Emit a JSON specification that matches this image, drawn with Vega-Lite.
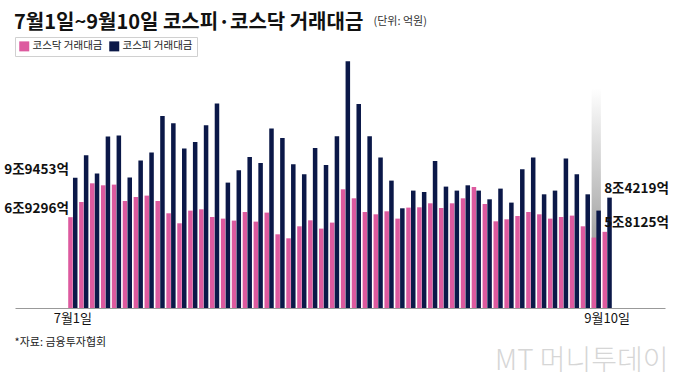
{
  "$schema": "https://vega.github.io/schema/vega-lite/v6.json",
  "width": 650,
  "height": 249,
  "autosize": {"type": "none"},
  "padding": {"left": 15, "top": 59, "right": 15, "bottom": 76},
  "background": "white",
  "config": {"view": {"stroke": null}, "font": "Noto Sans CJK KR"},
  "title": {
    "text": "7월1일~9월10일 코스피·코스닥 거래대금",
    "anchor": "start",
    "frame": "group",
    "orient": "top",
    "fontSize": 20,
    "fontWeight": "bold",
    "font": "Noto Sans CJK KR",
    "color": "#111111",
    "baseline": "alphabetic",
    "offset": 0,
    "dy": 34,
    "dx": -1
  },
  "datasets": {
    "main": [
      {"i": 1, "코스닥 거래대금": 69296, "코스피 거래대금": 99453},
      {"i": 2, "코스닥 거래대금": 80900, "코스피 거래대금": 116500},
      {"i": 3, "코스닥 거래대금": 95150, "코스피 거래대금": 102550},
      {"i": 4, "코스닥 거래대금": 93620, "코스피 거래대금": 130780},
      {"i": 5, "코스닥 거래대금": 94150, "코스피 거래대금": 131540},
      {"i": 6, "코스닥 거래대금": 81640, "코스피 거래대금": 99500},
      {"i": 7, "코스닥 거래대금": 84700, "코스피 거래대금": 112470},
      {"i": 8, "코스닥 거래대금": 85760, "코스피 거래대금": 118570},
      {"i": 9, "코스닥 거래대금": 81640, "코스피 거래대금": 146500},
      {"i": 10, "코스닥 거래대금": 72260, "코스피 거래대금": 140930},
      {"i": 11, "코스닥 거래대금": 64630, "코스피 거래대금": 121620},
      {"i": 12, "코스닥 거래대금": 74300, "코스피 거래대금": 126660},
      {"i": 13, "코스닥 거래대금": 75310, "코스피 거래대금": 139400},
      {"i": 14, "코스닥 거래대금": 69430, "코스피 거래대금": 155960},
      {"i": 15, "코스닥 거래대금": 68200, "코스피 거래대금": 95680},
      {"i": 16, "코스닥 거래대금": 66690, "코스피 거래대금": 105070},
      {"i": 17, "코스닥 거래대금": 73250, "코스피 거래대금": 115210},
      {"i": 18, "코스닥 거래대금": 65920, "코스피 거래대금": 110640},
      {"i": 19, "코스닥 거래대금": 72790, "코스피 거래대금": 136880},
      {"i": 20, "코스닥 거래대금": 56230, "코스피 거래대금": 129710},
      {"i": 21, "코스닥 거래대금": 53180, "코스피 거래대금": 109640},
      {"i": 22, "코스닥 거래대금": 62340, "코스피 거래대금": 102010},
      {"i": 23, "코스닥 거래대금": 66910, "코스피 거래대금": 122080},
      {"i": 24, "코스닥 거래대금": 60580, "코스피 거래대금": 109110},
      {"i": 25, "코스닥 거래대금": 65160, "코스피 거래대금": 131010},
      {"i": 26, "코스닥 거래대금": 90570, "코스피 거래대금": 188230},
      {"i": 27, "코스닥 거래대금": 83700, "코스피 거래대금": 155650},
      {"i": 28, "코스닥 거래대금": 73250, "코스피 거래대금": 131010},
      {"i": 29, "코스닥 거래대금": 71490, "코스피 거래대금": 114750},
      {"i": 30, "코스닥 거래대금": 73780, "코스피 거래대금": 97210},
      {"i": 31, "코스닥 거래대금": 68200, "코스피 거래대금": 76070},
      {"i": 32, "코스닥 거래대금": 76600, "코스피 거래대금": 89580},
      {"i": 33, "코스닥 거래대금": 76830, "코스피 거래대금": 88510},
      {"i": 34, "코스닥 거래대금": 79890, "코스피 거래대금": 112160},
      {"i": 35, "코스닥 거래대금": 76300, "코스피 거래대금": 92630},
      {"i": 36, "코스닥 거래대금": 79890, "코스피 거래대금": 89580},
      {"i": 37, "코스닥 거래대금": 83700, "코스피 거래대금": 93620},
      {"i": 38, "코스닥 거래대금": 92320, "코스피 거래대금": 89580},
      {"i": 39, "코스닥 거래대금": 79350, "코스피 거래대금": 82940},
      {"i": 40, "코스닥 거래대금": 66150, "코스피 거래대금": 91100},
      {"i": 41, "코스닥 거래대금": 67680, "코스피 거래대금": 80420},
      {"i": 42, "코스닥 거래대금": 70200, "코스피 거래대금": 105830},
      {"i": 43, "코스닥 거래대금": 73250, "코스피 거래대금": 114750},
      {"i": 44, "코스닥 거래대금": 71490, "코스피 거래대금": 86750},
      {"i": 45, "코스닥 거래대금": 68200, "코스피 거래대금": 89580},
      {"i": 46, "코스닥 거래대금": 69430, "코스피 거래대금": 113990},
      {"i": 47, "코스닥 거래대금": 70500, "코스피 거래대금": 102010},
      {"i": 48, "코스닥 거래대금": 62340, "코스피 거래대금": 86750},
      {"i": 49, "코스닥 거래대금": 53720, "코스피 거래대금": 74320},
      {"i": 50, "코스닥 거래대금": 58125, "코스피 거래대금": 84219}
    ],
    "hl": [{"i": 49, "v": 167600}],
    "annL": [
      {"i": 1, "v": 99453, "label": "9조9453억"},
      {"i": 1, "v": 69296, "label": "6조9296억"}
    ],
    "annR": [
      {"i": 50, "v": 84219, "label": "8조4219억"},
      {"i": 50, "v": 58125, "label": "5조8125억"}
    ]
  },
  "encoding": {
    "x": {
      "field": "i",
      "type": "ordinal",
      "scale": {
        "domain": [-3, -2, -1, 0, 1, 2, 3, 4, 5, 6, 7, 8, 9, 10, 11, 12, 13, 14, 15, 16, 17, 18, 19, 20, 21, 22, 23, 24, 25, 26, 27, 28, 29, 30, 31, 32, 33, 34, 35, 36, 37, 38, 39, 40, 41, 42, 43, 44, 45, 46, 47, 48, 49, 50, 51, 52, 53, 54],
        "paddingInner": 0.15,
        "paddingOuter": 0.88,
        "align": 0.5
      },
      "axis": {
        "values": [1, 50],
        "labelExpr": "datum.value == 1 ? '7월1일' : '9월10일'",
        "labelAngle": 0,
        "ticks": false,
        "grid": false,
        "domainColor": "#999999",
        "domainWidth": 1,
        "labelFontSize": 13,
        "labelColor": "#111111",
        "labelFont": "Noto Sans CJK KR",
        "labelPadding": 4,
        "title": "*자료: 금융투자협회",
        "titleX": -1,
        "titleY": 37,
        "titleAlign": "left",
        "titleBaseline": "alphabetic",
        "titleFontSize": 11,
        "titleFontWeight": "normal",
        "titleColor": "#222222",
        "titleFont": "Noto Sans CJK KR"
      }
    }
  },
  "layer": [
    {
      "data": {"name": "hl"},
      "mark": {
        "type": "bar",
        "fill": {
          "gradient": "linear",
          "x1": 0, "y1": 0, "x2": 0, "y2": 1,
          "stops": [
            {"offset": 0, "color": "#ffffff"},
            {"offset": 0.65, "color": "#a8a8a8"},
            {"offset": 1, "color": "#909090"}
          ]
        }
      },
      "encoding": {
        "y": {"field": "v", "type": "quantitative", "scale": {"domain": [0, 190000], "nice": false}, "axis": null},
        "y2": {"datum": 0}
      }
    },
    {
      "data": {"name": "main"},
      "transform": [{"fold": ["코스닥 거래대금", "코스피 거래대금"], "as": ["s", "v"]}],
      "mark": {"type": "bar"},
      "encoding": {
        "xOffset": {"field": "s", "type": "nominal", "sort": ["코스닥 거래대금", "코스피 거래대금"], "scale": {"paddingInner": 0.05}},
        "y": {
          "field": "v",
          "type": "quantitative",
          "scale": {"domain": [0, 190000], "nice": false},
          "axis": {
            "orient": "left",
            "labels": false,
            "ticks": false,
            "domain": false,
            "grid": false,
            "title": "(단위: 억원)",
            "titleAngle": 0,
            "titleX": 358,
            "titleY": -35,
            "titleAlign": "left",
            "titleBaseline": "alphabetic",
            "titleFontSize": 11,
            "titleFontWeight": "normal",
            "titleColor": "#333333",
            "titleFont": "Noto Sans CJK KR"
          }
        },
        "color": {
          "field": "s",
          "type": "nominal",
          "scale": {"domain": ["코스닥 거래대금", "코스피 거래대금"], "range": ["#dd5a9f", "#0b1848"]},
          "legend": {
            "orient": "none",
            "legendX": 0,
            "legendY": -22,
            "direction": "horizontal",
            "title": null,
            "symbolType": "square",
            "symbolSize": 100,
            "symbolStrokeWidth": 0,
            "symbolOpacity": 1,
            "labelFontSize": 10.5,
            "labelFont": "Noto Sans CJK KR",
            "labelColor": "#222222",
            "labelOffset": 3,
            "columnPadding": 6,
            "padding": 4,
            "strokeColor": "#d0d0d0"
          }
        }
      }
    },
    {
      "data": {"name": "annL"},
      "mark": {"type": "text", "align": "right", "baseline": "middle", "dx": -4, "dy": -8, "fontSize": 13.5, "fontWeight": "bold", "letterSpacing": -1, "color": "#111111", "font": "Noto Sans CJK KR"},
      "encoding": {
        "y": {"field": "v", "type": "quantitative", "scale": {"domain": [0, 190000], "nice": false}, "axis": null},
        "text": {"field": "label"}
      }
    },
    {
      "data": {"name": "annR"},
      "mark": {"type": "text", "align": "left", "baseline": "middle", "dx": -3, "dy": -9, "fontSize": 13.5, "fontWeight": "bold", "letterSpacing": -1, "color": "#111111", "font": "Noto Sans CJK KR"},
      "encoding": {
        "y": {
          "field": "v",
          "type": "quantitative",
          "scale": {"domain": [0, 190000], "nice": false},
          "axis": {
            "orient": "right",
            "labels": false,
            "ticks": false,
            "domain": false,
            "grid": false,
            "title": "MT  머니투데이",
            "titleAngle": 0,
            "titleX": 3,
            "titleY": 310,
            "titleAlign": "right",
            "titleBaseline": "alphabetic",
            "titleFontSize": 28,
            "titleFontWeight": 300,
            "titleColor": "#d6d6d6",
            "titleFont": "Noto Sans CJK KR"
          }
        },
        "text": {"field": "label"}
      }
    }
  ],
  "resolve": {"scale": {"y": "shared"}, "axis": {"y": "independent"}}
}
